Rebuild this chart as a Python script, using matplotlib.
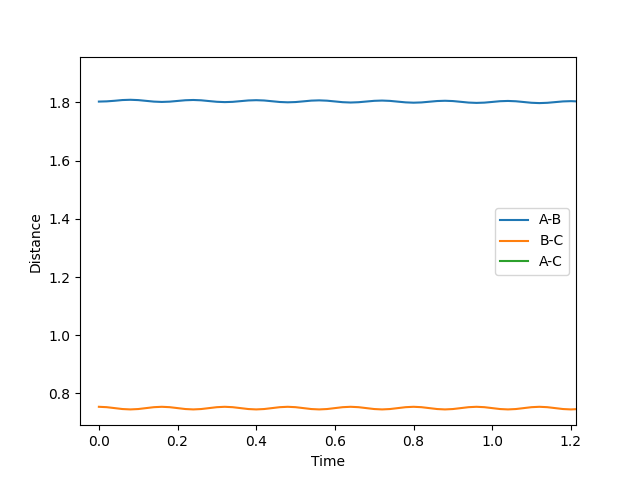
import matplotlib
matplotlib.use("Agg")
import matplotlib.pyplot as plt

# 时间点（每 0.02 读一个值）
time = [round(0.02 * i, 2) for i in range(62)]

# A-B 距离
dist_ab = [
    1.8030, 1.8038, 1.8058, 1.8083, 1.8092, 1.8081, 1.8055, 1.8029,
    1.8018, 1.8028, 1.8052, 1.8076, 1.8085, 1.8074, 1.8048, 1.8023,
    1.8012, 1.8021, 1.8045, 1.8069, 1.8078, 1.8068, 1.8042, 1.8016,
    1.8005, 1.8014, 1.8038, 1.8063, 1.8072, 1.8061, 1.8035, 1.8009,
    1.7998, 1.8008, 1.8032, 1.8056, 1.8065, 1.8054, 1.8028, 1.8003,
    1.7992, 1.8001, 1.8025, 1.8049, 1.8058, 1.8048, 1.8022, 1.7996,
    1.7985, 1.7994, 1.8018, 1.8043, 1.8052, 1.8041, 1.8015, 1.7989,
    1.7978, 1.7988, 1.8012, 1.8036, 1.8045, 1.8034,
]

# B-C 距离
dist_bc = [
    0.7540, 0.7527, 0.7495, 0.7463, 0.7450, 0.7463, 0.7495, 0.7527,
    0.7540, 0.7527, 0.7495, 0.7463, 0.7450, 0.7463, 0.7495, 0.7527,
    0.7540, 0.7527, 0.7495, 0.7463, 0.7450, 0.7463, 0.7495, 0.7527,
    0.7540, 0.7527, 0.7495, 0.7463, 0.7450, 0.7463, 0.7495, 0.7527,
    0.7540, 0.7527, 0.7495, 0.7463, 0.7450, 0.7463, 0.7495, 0.7527,
    0.7540, 0.7527, 0.7495, 0.7463, 0.7450, 0.7463, 0.7495, 0.7527,
    0.7540, 0.7527, 0.7495, 0.7463, 0.7450, 0.7463, 0.7495, 0.7527,
    0.7540, 0.7527, 0.7495, 0.7463, 0.7450, 0.7463,
]

# A-C 在可见范围内没有数据
time_ac = []
dist_ac = []

fig, ax = plt.subplots(figsize=(6.4, 4.78), dpi=100)
ax.plot(time, dist_ab, label="A-B")
ax.plot(time, dist_bc, label="B-C")
ax.plot(time_ac, dist_ac, label="A-C")

ax.set_xlim(-0.048, 1.213)
ax.set_ylim(0.69, 1.955)
ax.set_xlabel("Time")
ax.set_ylabel("Distance")
ax.legend(loc="center right")

fig.savefig("out.png", dpi=100)
